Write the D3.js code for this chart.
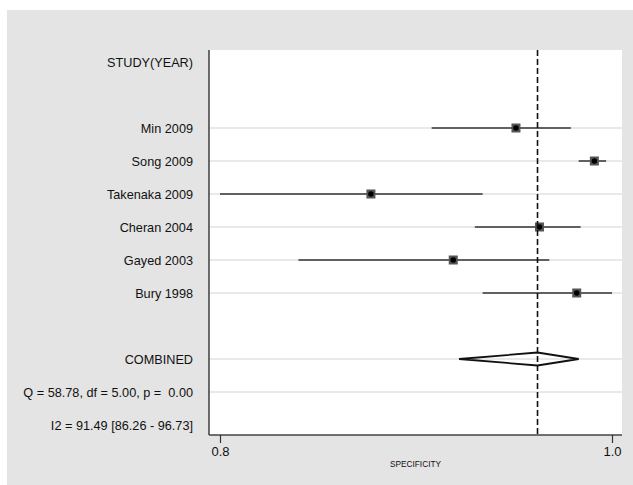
<!DOCTYPE html>
<html>
<head>
<meta charset="utf-8">
<script src="https://cdn.jsdelivr.net/npm/d3@7"></script>
<style>
	body { margin: 0; background: #fff; }
	text { font-family: "Liberation Sans", Arial, Helvetica, sans-serif; fill: #111; }
</style>
</head>
<body>
<svg id="chart" width="633" height="485"></svg>
<script>
// row labels, top to bottom ('' = empty row)
var rowLabels = [ 'STUDY(YEAR)', '', 'Min 2009', 'Song 2009', 'Takenaka 2009', 'Cheran 2004',
	'Gayed 2003', 'Bury 1998', '', 'COMBINED', 'Q = 58.78, df = 5.00, p =  0.00', 'I2 = 91.49 [86.26 - 96.73]' ];

// study estimates
var studies = [ 'Min 2009', 'Song 2009', 'Takenaka 2009', 'Cheran 2004', 'Gayed 2003', 'Bury 1998' ];
var estimate = [ 0.951, 0.991, 0.877, 0.963, 0.919, 0.982 ];
var lower = [ 0.908, 0.983, 0.800, 0.930, 0.840, 0.934 ];
var upper = [ 0.979, 0.997, 0.934, 0.984, 0.968, 1.000 ];

// pooled
var combined = { est: 0.962, lo: 0.922, hi: 0.983 };
var gridRows = studies.concat( [ 'COMBINED', rowLabels[ 10 ] ] );

var xTicks = [ 0.8, 1.0 ];
var xLabel = 'SPECIFICITY';

var svg = d3.select( '#chart' );

// gray page background
svg.append( 'rect' )
	.attr( 'x', 7 ).attr( 'y', 10 )
	.attr( 'width', 626 ).attr( 'height', 475 )
	.attr( 'fill', '#e4e4e4' );

var plot = { left: 209, right: 622, top: 50, bottom: 435 };

svg.append( 'rect' )
	.attr( 'x', plot.left ).attr( 'y', plot.top )
	.attr( 'width', plot.right - plot.left ).attr( 'height', plot.bottom - plot.top )
	.attr( 'fill', '#fff' );

var x = d3.scaleLinear().domain( [ 0.8, 1.0 ] ).range( [ 220, 612 ] );
var y = d3.scalePoint()
	.domain( d3.range( rowLabels.length ) )
	.range( [ 62, 425 ] );

function rowY( label ) {
	return y( rowLabels.indexOf( label ) );
}

// light grid lines
svg.append( 'g' ).selectAll( 'line' )
	.data( gridRows )
	.enter().append( 'line' )
	.attr( 'x1', plot.left ).attr( 'x2', plot.right )
	.attr( 'y1', rowY ).attr( 'y2', rowY )
	.attr( 'stroke', '#e2e2e2' )
	.attr( 'stroke-width', 1.5 );

// row labels
svg.append( 'g' ).selectAll( 'text' )
	.data( rowLabels )
	.enter().append( 'text' )
	.attr( 'x', 193 )
	.attr( 'y', function( d, i ) { return y( i ); } )
	.attr( 'dy', '0.36em' )
	.attr( 'text-anchor', 'end' )
	.attr( 'font-size', 12.7 )
	.style( 'white-space', 'pre' )
	.text( function( d ) { return d; } );

// confidence intervals
var g = svg.append( 'g' );
g.selectAll( 'line.ci' )
	.data( studies )
	.enter().append( 'line' )
	.attr( 'class', 'ci' )
	.attr( 'x1', function( d, i ) { return x( lower[ i ] ); } )
	.attr( 'x2', function( d, i ) { return x( upper[ i ] ); } )
	.attr( 'y1', rowY ).attr( 'y2', rowY )
	.attr( 'stroke', '#333' )
	.attr( 'stroke-width', 1.5 );

// pooled diamond
var cy = rowY( 'COMBINED' );
svg.append( 'polygon' )
	.attr( 'points', [
		[ x( combined.lo ), cy ], [ x( combined.est ), cy - 6.5 ],
		[ x( combined.hi ), cy ], [ x( combined.est ), cy + 6.5 ]
	].join( ' ' ) )
	.attr( 'fill', 'none' )
	.attr( 'stroke', '#111' )
	.attr( 'stroke-width', 1.8 )
	.attr( 'stroke-linejoin', 'miter' );

// pooled estimate reference line
svg.append( 'line' )
	.attr( 'x1', x( combined.est ) ).attr( 'x2', x( combined.est ) )
	.attr( 'y1', plot.top ).attr( 'y2', plot.bottom )
	.attr( 'stroke', '#111' )
	.attr( 'stroke-width', 1.6 )
	.attr( 'stroke-dasharray', '6,3' );

// point markers
g.selectAll( 'rect.box' )
	.data( studies )
	.enter().append( 'rect' )
	.attr( 'class', 'box' )
	.attr( 'x', function( d, i ) { return x( estimate[ i ] ) - 4.5; } )
	.attr( 'y', function( d ) { return rowY( d ) - 4.5; } )
	.attr( 'width', 9 ).attr( 'height', 9 )
	.attr( 'fill', '#555' );
g.selectAll( 'circle.pt' )
	.data( studies )
	.enter().append( 'circle' )
	.attr( 'class', 'pt' )
	.attr( 'cx', function( d, i ) { return x( estimate[ i ] ); } )
	.attr( 'cy', rowY )
	.attr( 'r', 2.8 )
	.attr( 'fill', '#000' );

// plot frame: left and bottom
svg.append( 'line' )
	.attr( 'x1', plot.left ).attr( 'x2', plot.left )
	.attr( 'y1', plot.top ).attr( 'y2', plot.bottom )
	.attr( 'stroke', '#222' ).attr( 'stroke-width', 1.3 );
svg.append( 'line' )
	.attr( 'x1', plot.left ).attr( 'x2', plot.right )
	.attr( 'y1', plot.bottom ).attr( 'y2', plot.bottom )
	.attr( 'stroke', '#444' ).attr( 'stroke-width', 1.6 );

// x axis
var axis = svg.append( 'g' )
	.attr( 'transform', 'translate(0,' + plot.bottom + ')' )
	.call( d3.axisBottom( x ).tickValues( xTicks ).tickFormat( d3.format( '.1f' ) ).tickSize( 8 ).tickPadding( 4 ) );
axis.select( '.domain' ).remove();
axis.selectAll( '.tick line' ).attr( 'stroke', '#333' ).attr( 'stroke-width', 1.2 );
axis.selectAll( '.tick text' )
	.attr( 'font-size', 13 )
	.attr( 'font-family', '"Liberation Sans", Arial, sans-serif' )
	.attr( 'fill', '#111' );

svg.append( 'text' )
	.attr( 'x', ( plot.left + plot.right ) / 2 )
	.attr( 'y', 467 )
	.attr( 'text-anchor', 'middle' )
	.attr( 'font-size', 8.3 )
	.text( xLabel );
</script>
</body>
</html>
